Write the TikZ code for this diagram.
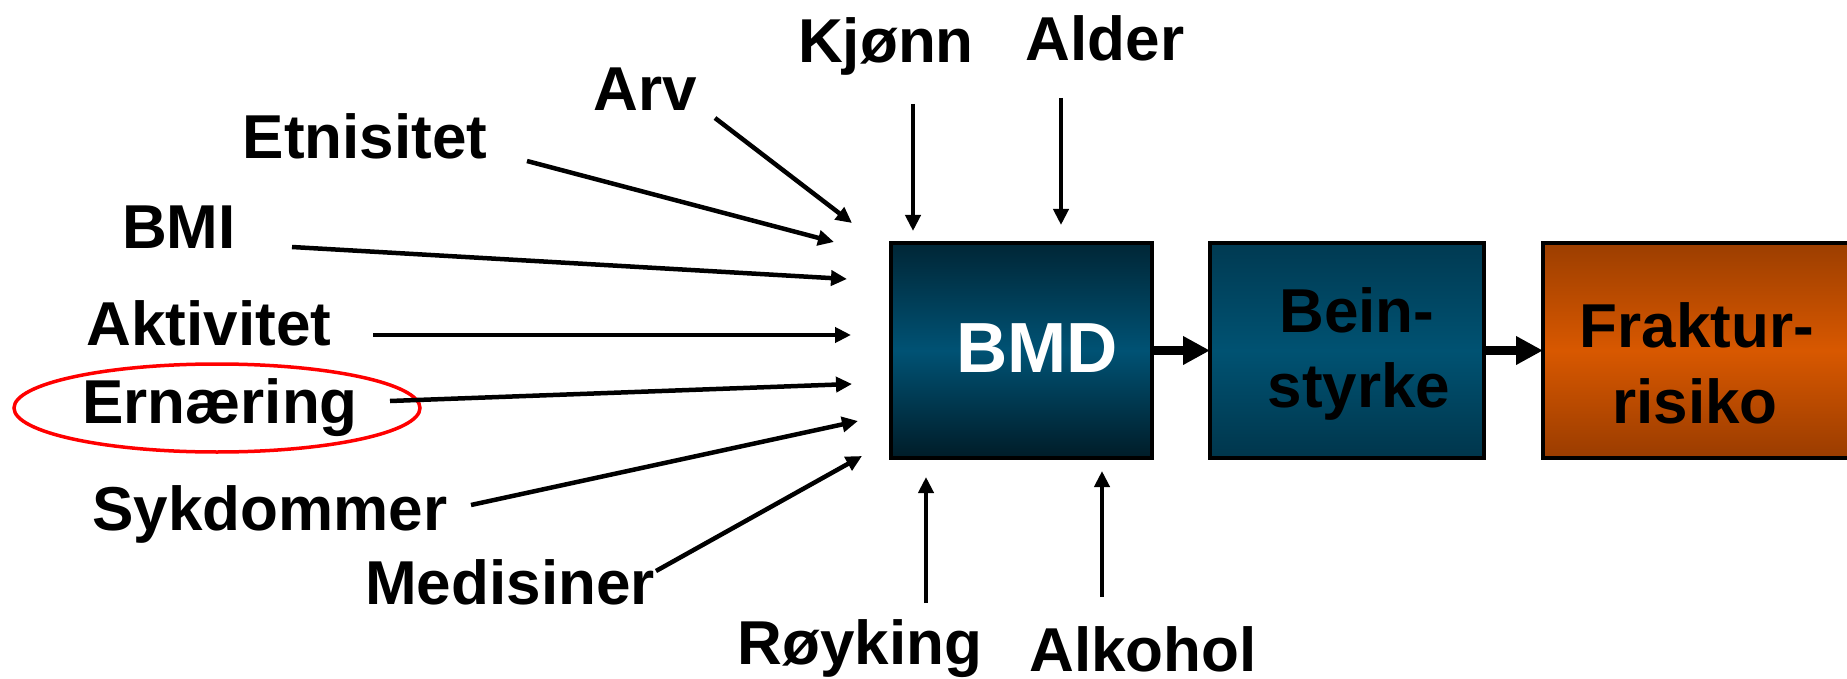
\documentclass[tikz,border=0pt]{standalone}
\usepackage{fontspec}
\setmainfont{Liberation Sans}
\usetikzlibrary{arrows.meta}
\definecolor{bmdtop}{HTML}{002636}
\definecolor{bmdmid}{HTML}{005274}
\definecolor{bmdbot}{HTML}{001C28}
\definecolor{beintop}{HTML}{003A52}
\definecolor{beinmid}{HTML}{005272}
\definecolor{beinbot}{HTML}{00364C}
\definecolor{frtop}{HTML}{9C3E00}
\definecolor{frmid}{HTML}{D85800}
\definecolor{frbot}{HTML}{9A3C00}
\begin{document}
\begin{tikzpicture}[x=1pt,y=-1pt,
  lbl/.style={anchor=base,inner sep=0pt,font=\fontsize{62}{70}\selectfont\bfseries},
  bigtxt/.style={anchor=base,inner sep=0pt,font=\fontsize{71}{80}\selectfont\bfseries},
  thinarrow/.style={line width=4.5pt,-{Triangle[length=16pt,width=15pt]}},
  thickarrow/.style={line width=9pt,-{Triangle[length=27pt,width=27pt]}},
  boxnode/.style={inner sep=0pt,outer sep=0pt,anchor=north west,minimum height=215pt},
]
\useasboundingbox (0,0) rectangle (1847,679);

% boxes
\node[boxnode,draw=black,line width=4pt,minimum width=261pt,
  top color=bmdtop,bottom color=bmdbot,middle color=bmdmid] (bmd) at (891,243) {};
\node[boxnode,draw=black,line width=4pt,minimum width=274pt,
  top color=beintop,bottom color=beinbot,middle color=beinmid] (bein) at (1210,243) {};
\node[boxnode,minimum width=304pt,
  top color=frtop,bottom color=frbot,middle color=frmid] (frak) at (1543,243) {};
\draw[line width=4pt] (frak.north east) -- (frak.north west) -- (frak.south west) -- (frak.south east);

% box texts
\node[bigtxt,text=white] (tbmd) at (1037,372) {BMD};
\node[lbl] (tbein1) at (1357,332) {Bein-};
\node[lbl] (tbein2) at (1359,407) {styrke};
\node[lbl] (tfrak1) at (1697,347) {Fraktur-};
\node[lbl] (tfrak2) at (1695,423) {risiko};

% labels
\node[lbl] (kjonn) at (886,63) {Kjønn};
\node[lbl] (alder) at (1105,61) {Alder};
\node[lbl] (arv) at (645,111) {Arv};
\node[lbl] (etn) at (365,159) {Etnisitet};
\node[lbl] (bmi) at (179,248) {BMI};
\node[lbl] (akt) at (209,345) {Aktivitet};
\node[lbl] (ern) at (220,423) {Ernæring};
\node[lbl] (syk) at (270,530) {Sykdommer};
\node[lbl] (med) at (510,604) {Medisiner};
\node[lbl] (roy) at (860,664) {Røyking};
\node[lbl] (alk) at (1143,671) {Alkohol};

% highlight
\draw[red,line width=3.5pt] (217,408) ellipse [x radius=203, y radius=44];

% arrow end points
\coordinate (arvS) at (715,118);  \coordinate (arvE) at (852,223);
\coordinate (etnS) at (527,161);  \coordinate (etnE) at (834,242);
\coordinate (bmiS) at (292,247);  \coordinate (bmiE) at (847,279);
\coordinate (aktS) at (373,335);  \coordinate (aktE) at (851,335);
\coordinate (ernS) at (390,401);  \coordinate (ernE) at (852,384);
\coordinate (sykS) at (471,505);  \coordinate (sykE) at (858,421);
\coordinate (medS) at (656,571);  \coordinate (medE) at (862,456);
\coordinate (kjoS) at (913,104);  \coordinate (kjoE) at (913,231);
\coordinate (aldS) at (1061,98);  \coordinate (aldE) at (1061,225);
\coordinate (royS) at (926,603);  \coordinate (royE) at (926,477);
\coordinate (alkS) at (1102,597); \coordinate (alkE) at (1102,471);

\foreach \a in {arv,etn,bmi,akt,ern,syk,med,kjo,ald,roy,alk}
  \draw[thinarrow] (\a S) -- (\a E);

\draw[thickarrow] (bmd.east) -- (bein.west);
\draw[thickarrow] (bein.east) -- (frak.west);
\end{tikzpicture}
\end{document}
